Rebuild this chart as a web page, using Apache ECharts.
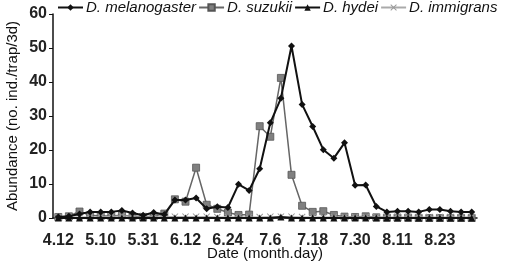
<!DOCTYPE html>
<html>
<head>
<meta charset="utf-8">
<script src="https://cdn.jsdelivr.net/npm/echarts@6/dist/echarts.min.js"></script>
<style>
  html, body { margin: 0; padding: 0; background: #fff; }
  #chart { width: 509px; height: 265px; }
</style>
</head>
<body>
<div id="chart"></div>
<script>
// sampling dates (month.day); only every 4th one is labelled
var dates = ['4.12', '4.19', '4.26', '5.3', '5.10', '5.15', '5.21', '5.26', '5.31', '6.3',
    '6.6', '6.9', '6.12', '6.15', '6.18', '6.21', '6.24', '6.27', '6.30', '7.3',
    '7.6', '7.9', '7.12', '7.15', '7.18', '7.21', '7.24', '7.27', '7.30', '8.2',
    '8.5', '8.8', '8.11', '8.14', '8.17', '8.20', '8.23', '8.26', '8.29', '9.1'];

var melanogaster = [0.3, 0.5, 1.2, 1.8, 1.8, 1.8, 2.2, 1.5, 0.8, 1.6,
    1.0, 5.3, 5.3, 5.9, 2.7, 3.3, 3.1, 9.9, 8.1, 14.5,
    28.0, 35.2, 50.6, 33.4, 26.9, 20.1, 17.6, 22.1, 9.6, 9.7,
    3.4, 1.8, 2.0, 2.0, 1.8, 2.5, 2.5, 2.0, 1.8, 1.8];
var suzukii = [0.3, 0.5, 1.9, 0.8, 0.6, 0.6, 0.8, 0.5, 0.3, 0.5,
    1.3, 5.5, 4.8, 14.8, 3.9, 2.7, 1.6, 0.9, 1.0, 27.0,
    23.9, 41.2, 12.7, 3.6, 1.8, 2.0, 0.9, 0.4, 0.3, 0.5,
    0.2, 0.1, 0.1, 0.1, 0, 0, 0, 0, 0, 0];
var hydei = [0, 0, 0, 0, 0, 0, 0, 0, 0, 0,
    0, 0, 0, 0, 0, 0, 0, 0, 0, 0,
    0, 0.3, 0, 0, 0, 0, 0, 0, 0, 0,
    0, 0, 0, 0, 0, 0, 0, 0, 0, 0];
var immigrans = [0.3, 0.3, 0.3, 0.3, 0.3, 0.5, 0.6, 0.6, 0.6, 0.5,
    0.5, 0.4, 0.4, 0.4, 0.4, 0.3, 0.3, 0.3, 0.3, 0.3,
    0.4, 0.4, 0.4, 0.3, 0.3, 0.3, 0.3, 0.3, 0.3, 0.3,
    0.3, 0.3, 0.3, 0.3, 0.3, 0.3, 0.3, 0.3, 0.3, 0.3];
var yTicks = [0, 60, 10]; // min, max, step

var chart = echarts.init(document.getElementById('chart'));
var font = 'Liberation Sans, Arial, sans-serif';
var crossSymbol = 'path://M0,1L1,0L5,4L9,0L10,1L6,5L10,9L9,10L5,6L1,10L0,9L4,5Z';

var option = {
    animation: false,
    backgroundColor: '#fff',
    textStyle: {fontFamily: font},
    legend: {
        left: 52,
        top: -5,
        itemWidth: 25,
        itemHeight: 8,
        itemGap: 2,
        textStyle: {fontSize: 15, fontStyle: 'italic', color: '#111', fontFamily: font, padding: [0, 0, 0, -2]},
        data: ['D. melanogaster', 'D. suzukii', 'D. hydei', 'D. immigrans']
    },
    grid: {left: 53, right: 32, top: 14, bottom: 47, outerBoundsMode: 'none', containLabel: false},
    xAxis: {
        type: 'category',
        data: dates,
        boundaryGap: true,
        name: 'Date (month.day)',
        nameLocation: 'middle',
        nameGap: 28,
        nameMoveOverlap: false,
        nameTextStyle: {fontSize: 15, color: '#111', fontFamily: font},
        axisLine: {lineStyle: {color: '#111', width: 1.5}},
        axisTick: {show: false},
        axisLabel: {interval: 3, fontSize: 16, fontWeight: 'bold', color: '#222', margin: 15, fontFamily: font}
    },
    yAxis: {
        type: 'value',
        min: yTicks[0],
        max: yTicks[1],
        interval: yTicks[2],
        name: 'Abundance (no. ind./trap/3d)',
        nameLocation: 'middle',
        nameGap: 33,
        nameMoveOverlap: false,
        nameTextStyle: {fontSize: 15, color: '#111', fontFamily: font},
        splitLine: {show: false},
        axisLine: {show: true, lineStyle: {color: '#111', width: 1.5}},
        axisTick: {show: true, length: 4, lineStyle: {color: '#111'}},
        axisLabel: {fontSize: 16, fontWeight: 'bold', color: '#222', margin: 6, fontFamily: font}
    },
    series: [
        {
            name: 'D. melanogaster',
            type: 'line',
            data: melanogaster,
            showAllSymbol: true,
            symbol: 'diamond',
            symbolSize: 7,
            lineStyle: {color: '#111', width: 2},
            itemStyle: {color: '#111'},
            z: 5
        },
        {
            name: 'D. suzukii',
            type: 'line',
            data: suzukii,
            showAllSymbol: true,
            symbol: 'rect',
            symbolSize: 7,
            lineStyle: {color: '#666', width: 1.5},
            itemStyle: {color: '#808080', borderColor: '#555', borderWidth: 0.8},
            z: 2
        },
        {
            name: 'D. hydei',
            type: 'line',
            data: hydei,
            showAllSymbol: true,
            symbol: 'triangle',
            symbolSize: 7,
            lineStyle: {color: '#111', width: 2},
            itemStyle: {color: '#111'},
            z: 4
        },
        {
            name: 'D. immigrans',
            type: 'line',
            data: immigrans,
            showAllSymbol: true,
            symbol: crossSymbol,
            symbolSize: 7,
            lineStyle: {color: '#aaa', width: 1},
            itemStyle: {color: '#999'},
            z: 3
        }
    ]
};

chart.setOption(option);
</script>
</body>
</html>
